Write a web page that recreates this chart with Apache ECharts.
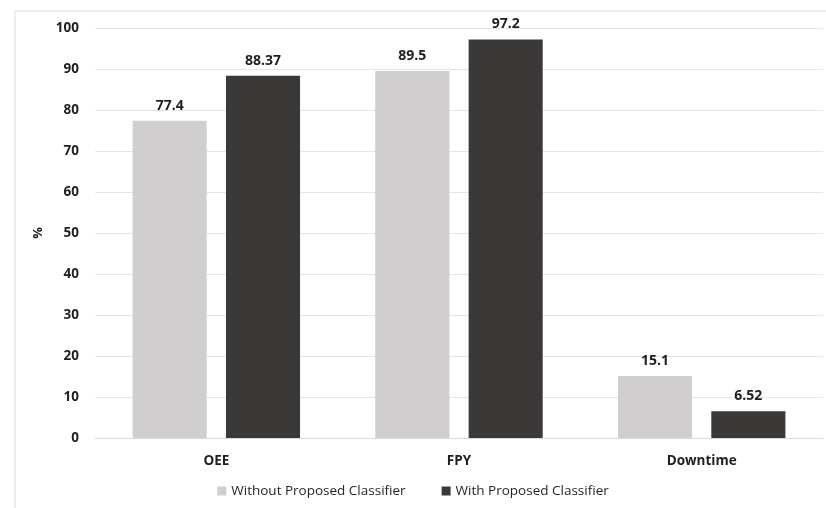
<!DOCTYPE html>
<html>
<head>
<meta charset="utf-8">
<script src="https://cdn.jsdelivr.net/npm/echarts@6/dist/echarts.min.js"></script>
<style>
  html, body { margin: 0; padding: 0; background: #ffffff; }
  #chart { width: 826px; height: 508px; }
</style>
</head>
<body>
<div id="chart"></div>
<script>
// Performance metrics with and without the proposed classifier
const categories = ['OEE', 'FPY', 'Downtime'];
const withoutClassifier = [77.4, 89.5, 15.1];
const withClassifier = [88.37, 97.2, 6.52];
const seriesNames = ['Without Proposed Classifier', 'With Proposed Classifier'];
const yTicks = { min: 0, max: 100, interval: 10 };

const FONT = '"Open Sans", "Liberation Sans", sans-serif';

const chart = echarts.init(document.getElementById('chart'), null, { renderer: 'canvas' });

const labelStyle = {
  show: true,
  position: 'top',
  distance: 8,
  fontFamily: FONT,
  fontWeight: 'bold',
  fontSize: 14,
  color: '#1f1f1f'
};

chart.setOption({
  animation: false,
  backgroundColor: '#ffffff',
  graphic: [{
    type: 'rect',
    shape: { x: 15, y: 11, width: 830, height: 520 },
    style: { fill: 'none', stroke: '#e6e8ee', lineWidth: 1.5 },
    silent: true,
    z: -1
  }],
  grid: { left: 95, right: 3, top: 28, bottom: 70 },
  legend: {
    bottom: 5,
    left: 'center',
    itemWidth: 9,
    itemHeight: 9,
    itemGap: 36,
    icon: 'rect',
    textStyle: { fontFamily: FONT, fontSize: 13.5, color: '#262626' },
    data: seriesNames
  },
  xAxis: {
    type: 'category',
    data: categories,
    axisLine: { show: true, lineStyle: { color: '#d9d9d9' } },
    axisTick: { show: false },
    axisLabel: { margin: 16, fontFamily: FONT, fontWeight: 'bold', fontSize: 13.5, color: '#1f1f1f' }
  },
  yAxis: {
    type: 'value',
    min: yTicks.min,
    max: yTicks.max,
    interval: yTicks.interval,
    name: '%',
    nameLocation: 'middle',
    nameGap: 47,
    nameRotate: 90,
    nameTextStyle: { fontFamily: FONT, fontWeight: 'bold', fontSize: 13, color: '#1f1f1f' },
    axisLine: { show: false },
    axisTick: { show: false },
    axisLabel: { margin: 16, fontFamily: FONT, fontWeight: 'bold', fontSize: 13.5, color: '#1f1f1f' },
    splitLine: { lineStyle: { color: '#e4e5ea', width: 1 } }
  },
  series: [
    {
      name: seriesNames[0],
      type: 'bar',
      data: withoutClassifier,
      itemStyle: { color: '#d0cece' },
      barGap: '26%',
      barCategoryGap: '31%',
      label: labelStyle
    },
    {
      name: seriesNames[1],
      type: 'bar',
      data: withClassifier,
      itemStyle: { color: '#3b3838' },
      barGap: '26%',
      barCategoryGap: '31%',
      label: labelStyle
    }
  ]
});
</script>
</body>
</html>
